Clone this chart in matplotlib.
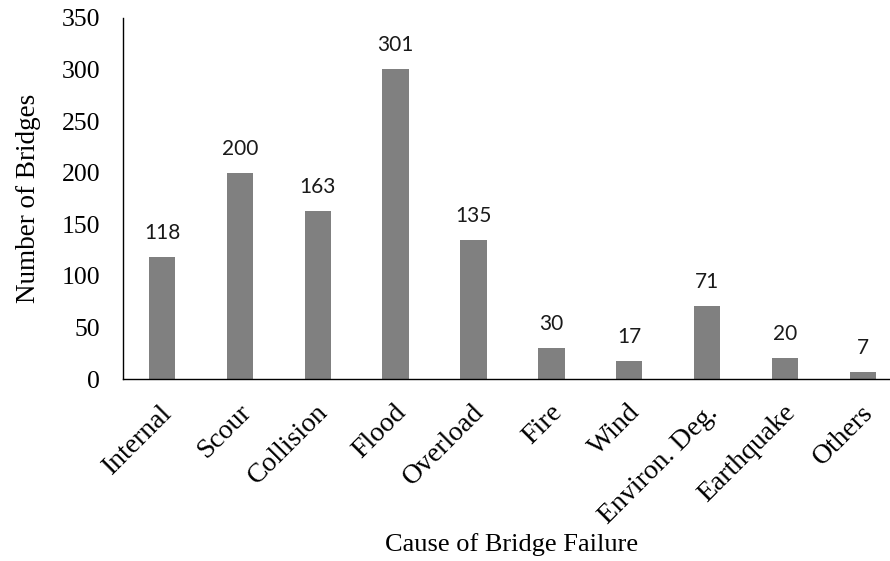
import matplotlib
matplotlib.use("Agg")
import matplotlib.pyplot as plt
import matplotlib.transforms as mtransforms

categories = ["Internal", "Scour", "Collision", "Flood", "Overload",
              "Fire", "Wind", "Environ. Deg.", "Earthquake", "Others"]
counts = [118, 200, 163, 301, 135, 30, 17, 71, 20, 7]
y_ticks = [0, 50, 100, 150, 200, 250, 300, 350]

W, H = 890, 561
fig = plt.figure(figsize=(W / 100, H / 100), dpi=100)
ax_left, ax_right = 123.1, 901.8
ax_bottom, ax_top = 379, 18
ax = fig.add_axes([ax_left / W, (H - ax_bottom) / H,
                   (ax_right - ax_left) / W, (ax_bottom - ax_top) / H])

x = list(range(len(categories)))
bars = ax.bar(x, counts, width=0.34, color="#808080", edgecolor="none")

ax.set_xlim(-0.5, len(categories) - 0.5)
ax.set_ylim(0, 350)
ax.set_yticks(y_ticks)
ax.set_yticklabels([str(v) for v in y_ticks], family="Liberation Serif",
                   fontsize=18.5)
ax.tick_params(axis="y", length=0, pad=16.5)
ax.tick_params(axis="x", length=0, pad=0)

ax.set_xticks(x)
ax.set_xticklabels(categories, family="Liberation Serif", fontsize=20,
                   rotation=45, ha="right", va="top", rotation_mode="anchor")
offset = mtransforms.ScaledTranslation(-2 / 100, -21 / 100, fig.dpi_scale_trans)
for lab in ax.get_xticklabels():
    lab.set_transform(lab.get_transform() + offset)

for s in ["top", "right"]:
    ax.spines[s].set_visible(False)
for s in ["left", "bottom"]:
    ax.spines[s].set_color("black")
    ax.spines[s].set_linewidth(1.0)

for xi, v in zip(x, counts):
    ax.annotate(str(v), xy=(xi, v), xytext=(0, 18), textcoords="offset pixels",
                ha="center", va="baseline", family="Lato", fontsize=15,
                color="#1a1a1a")

fig.text(512 / W, 1 - 545 / H, "Cause of Bridge Failure",
         family="Liberation Serif", fontsize=19, ha="center", va="center")
fig.text(29 / W, 1 - 198 / H, "Number of Bridges",
         family="Liberation Serif", fontsize=19.5, ha="center", va="center",
         rotation=90)

fig.savefig("out.png", dpi=100, facecolor="white")
